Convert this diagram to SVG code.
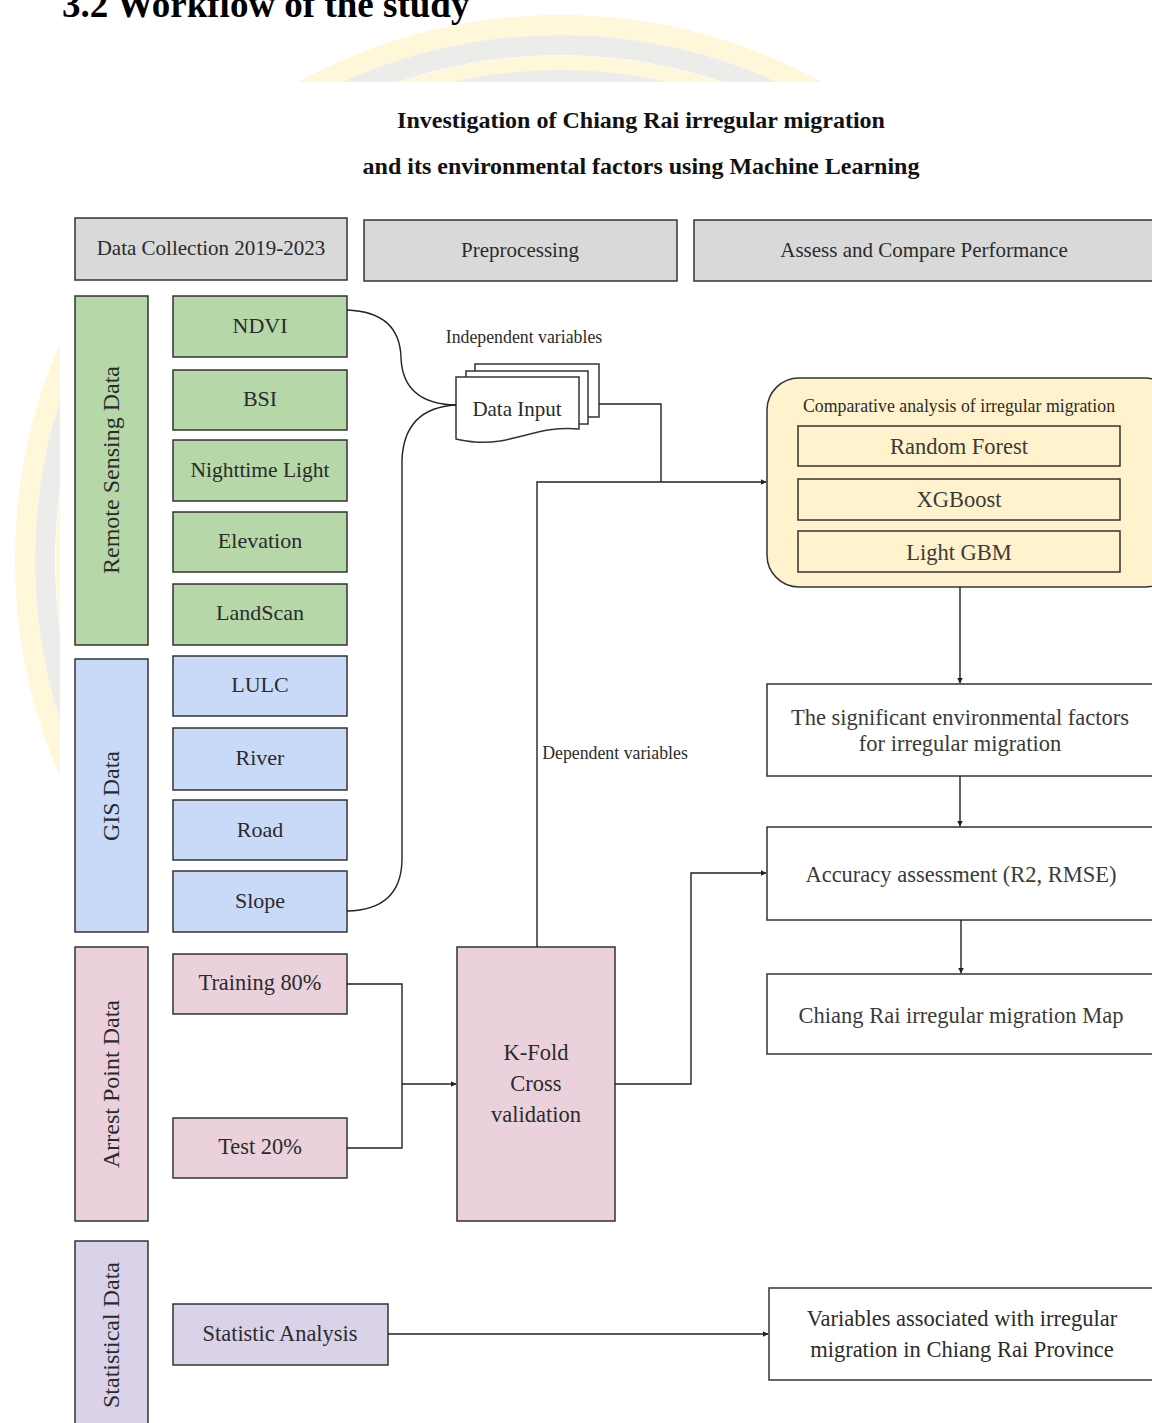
<svg xmlns="http://www.w3.org/2000/svg" width="1152" height="1423" viewBox="0 0 1152 1423">
<style>
  .t { font-family: "Liberation Serif", "Times New Roman", serif; fill: #2b2b2b; }
  .g { fill: #3a3a3a; }
  .box { stroke: #333; stroke-width: 1.5; }
  .hdr { fill: #d9d9d9; }
  .grn { fill: #b6d7a8; }
  .blu { fill: #c9daf8; }
  .pnk { fill: #ead1dc; }
  .prp { fill: #d9d2e9; }
  .ylw { fill: #fff2cc; }
  .wht { fill: #ffffff; }
  .ln { fill: none; stroke: #222; stroke-width: 1.4; }
</style>
<defs>
  <marker id="arr" viewBox="0 0 10 10" refX="9" refY="5" markerWidth="6" markerHeight="6" orient="auto" markerUnits="userSpaceOnUse">
    <path d="M0,0 L10,5 L0,10 z" fill="#222"/>
  </marker>
  <clipPath id="wm">
    <rect x="0" y="0" width="1152" height="82"/>
    <rect x="0" y="82" width="60" height="1341"/>
  </clipPath>
</defs>
<rect x="0" y="0" width="1152" height="1423" fill="#ffffff"/>

<g id="watermark" clip-path="url(#wm)" fill="none">
  <circle cx="560" cy="560" r="535" stroke="#fff7d9" stroke-width="20"/>
  <circle cx="560" cy="560" r="515" stroke="#ececea" stroke-width="20"/>
  <circle cx="560" cy="560" r="497" stroke="#fff7d9" stroke-width="15"/>
  <circle cx="560" cy="560" r="480" stroke="#ececea" stroke-width="20"/>
</g>

<text id="page-title" class="t" x="62" y="17" font-size="37" font-weight="bold" style="fill:#000">3.2 Workflow of the study</text>

<g id="title">
  <text class="t" x="641" y="128" font-size="24" font-weight="bold" text-anchor="middle" style="fill:#111">Investigation of Chiang Rai irregular migration</text>
  <text class="t" x="641" y="174" font-size="24" font-weight="bold" text-anchor="middle" style="fill:#111">and its environmental factors using Machine Learning</text>
</g>

<!-- headers -->
<g id="hdr-data-collection"><rect class="box hdr" x="75" y="218" width="272" height="62"/><text class="t" x="211" y="255" font-size="21" text-anchor="middle">Data Collection 2019-2023</text></g>
<g id="hdr-preprocessing"><rect class="box hdr" x="364" y="220" width="313" height="61"/><text class="t" x="520" y="257" font-size="21" text-anchor="middle">Preprocessing</text></g>
<g id="hdr-assess"><rect class="box hdr" x="694" y="220" width="480" height="61"/><text class="t" x="924" y="257" font-size="21" text-anchor="middle">Assess and Compare Performance</text></g>

<!-- categories -->
<g id="cat-remote"><rect class="box grn" x="75" y="296" width="73" height="349"/><text class="t" font-size="24" text-anchor="middle" transform="translate(119,470) rotate(-90)">Remote Sensing Data</text></g>
<g id="cat-gis"><rect class="box blu" x="75" y="659" width="73" height="273"/><text class="t" font-size="24" text-anchor="middle" transform="translate(119,796) rotate(-90)">GIS Data</text></g>
<g id="cat-arrest"><rect class="box pnk" x="75" y="947" width="73" height="274"/><text class="t" font-size="24" text-anchor="middle" transform="translate(119,1084) rotate(-90)">Arrest Point Data</text></g>
<g id="cat-stat"><rect class="box prp" x="75" y="1241" width="73" height="200"/><text class="t" font-size="24" text-anchor="middle" transform="translate(119,1335) rotate(-90)">Statistical Data</text></g>

<!-- items -->
<g id="ndvi"><rect class="box grn" x="173" y="296" width="174" height="61"/><text class="t" x="260" y="333" font-size="22" text-anchor="middle">NDVI</text></g>
<g id="bsi"><rect class="box grn" x="173" y="370" width="174" height="60"/><text class="t" x="260" y="406" font-size="22" text-anchor="middle">BSI</text></g>
<g id="nightlight"><rect class="box grn" x="173" y="440" width="174" height="61"/><text class="t" x="260" y="477" font-size="21.5" text-anchor="middle">Nighttime Light</text></g>
<g id="elevation"><rect class="box grn" x="173" y="512" width="174" height="60"/><text class="t" x="260" y="548" font-size="22" text-anchor="middle">Elevation</text></g>
<g id="landscan"><rect class="box grn" x="173" y="584" width="174" height="61"/><text class="t" x="260" y="620" font-size="22" text-anchor="middle">LandScan</text></g>
<g id="lulc"><rect class="box blu" x="173" y="656" width="174" height="60"/><text class="t" x="260" y="692" font-size="22" text-anchor="middle">LULC</text></g>
<g id="river"><rect class="box blu" x="173" y="728" width="174" height="62"/><text class="t" x="260" y="765" font-size="22" text-anchor="middle">River</text></g>
<g id="road"><rect class="box blu" x="173" y="800" width="174" height="60"/><text class="t" x="260" y="837" font-size="22" text-anchor="middle">Road</text></g>
<g id="slope"><rect class="box blu" x="173" y="871" width="174" height="61"/><text class="t" x="260" y="908" font-size="22" text-anchor="middle">Slope</text></g>
<g id="training"><rect class="box pnk" x="173" y="954" width="174" height="60"/><text class="t" x="260" y="990" font-size="22.4" text-anchor="middle">Training 80%</text></g>
<g id="test"><rect class="box pnk" x="173" y="1118" width="174" height="60"/><text class="t" x="260" y="1154" font-size="22.4" text-anchor="middle">Test 20%</text></g>
<g id="stat-analysis"><rect class="box prp" x="173" y="1304" width="215" height="61"/><text class="t" x="280" y="1341" font-size="22.4" text-anchor="middle">Statistic Analysis</text></g>

<!-- data input -->
<g id="data-input">
  <rect class="box wht" x="475" y="364" width="124" height="53"/>
  <rect class="box wht" x="466" y="371" width="122" height="53"/>
  <path class="box wht" d="M456,377 L579,377 L579,429 C548,426 528,436 500,441 C480,444 466,441 456,439 Z"/>
  <text class="t" x="517" y="416" font-size="21" text-anchor="middle">Data Input</text>
</g>

<!-- K-fold -->
<g id="kfold"><rect class="box pnk" x="457" y="947" width="158" height="274"/>
  <text class="t" x="536" y="1060" font-size="22.5" text-anchor="middle">K-Fold</text>
  <text class="t" x="536" y="1091" font-size="22.5" text-anchor="middle">Cross</text>
  <text class="t" x="536" y="1122" font-size="22.5" text-anchor="middle">validation</text>
</g>

<!-- comparative -->
<g id="comparative">
  <rect class="box ylw" x="767" y="378" width="410" height="209" rx="32" ry="32"/>
  <text class="t" x="959" y="412" font-size="17.8" text-anchor="middle">Comparative analysis of irregular migration</text>
  <rect class="box ylw" x="798" y="426" width="322" height="40"/><text class="t g" x="959" y="454" font-size="22.5" text-anchor="middle">Random Forest</text>
  <rect class="box ylw" x="798" y="479" width="322" height="41"/><text class="t g" x="959" y="507" font-size="22.5" text-anchor="middle">XGBoost</text>
  <rect class="box ylw" x="798" y="531" width="322" height="41"/><text class="t g" x="959" y="560" font-size="22.5" text-anchor="middle">Light GBM</text>
</g>

<g id="significant"><rect class="box wht" x="767" y="684" width="420" height="92"/>
  <text class="t g" x="960" y="725" font-size="22.5" text-anchor="middle">The significant environmental factors</text>
  <text class="t g" x="960" y="751" font-size="22.5" text-anchor="middle">for irregular migration</text>
</g>
<g id="accuracy"><rect class="box wht" x="767" y="827" width="420" height="93"/>
  <text class="t g" x="961" y="882" font-size="22.5" text-anchor="middle">Accuracy assessment (R2, RMSE)</text>
</g>
<g id="map"><rect class="box wht" x="767" y="974" width="420" height="80"/>
  <text class="t g" x="961" y="1023" font-size="22.5" text-anchor="middle">Chiang Rai irregular migration Map</text>
</g>
<g id="variables"><rect class="box wht" x="769" y="1288" width="420" height="92"/>
  <text class="t" x="962" y="1326" font-size="22.5" text-anchor="middle">Variables associated with irregular</text>
  <text class="t" x="962" y="1357" font-size="22.5" text-anchor="middle">migration in Chiang Rai Province</text>
</g>

<!-- connectors -->
<g id="connectors">
  <path class="ln" d="M347,310 Q400,312 401,358 Q403,404 456,405"/>
  <path class="ln" d="M456,405 Q404,408 402,460 L402,860 Q401,910 347,911"/>
  <path class="ln" d="M599,404 L661,404 L661,482"/>
  <path class="ln" d="M537,947 L537,482 L766,482" marker-end="url(#arr)"/>
  <path class="ln" d="M960,587 L960,683" marker-end="url(#arr)"/>
  <path class="ln" d="M960,776 L960,826" marker-end="url(#arr)"/>
  <path class="ln" d="M961,920 L961,973" marker-end="url(#arr)"/>
  <path class="ln" d="M347,984 L402,984 L402,1148 L347,1148"/>
  <path class="ln" d="M402,1084 L456,1084" marker-end="url(#arr)"/>
  <path class="ln" d="M615,1084 L691,1084 L691,873 L766,873" marker-end="url(#arr)"/>
  <path class="ln" d="M388,1334 L768,1334" marker-end="url(#arr)"/>
  <text class="t" x="524" y="343" font-size="17.8" text-anchor="middle">Independent variables</text>
  <text class="t" x="615" y="759" font-size="17.8" text-anchor="middle">Dependent variables</text>
</g>
</svg>
